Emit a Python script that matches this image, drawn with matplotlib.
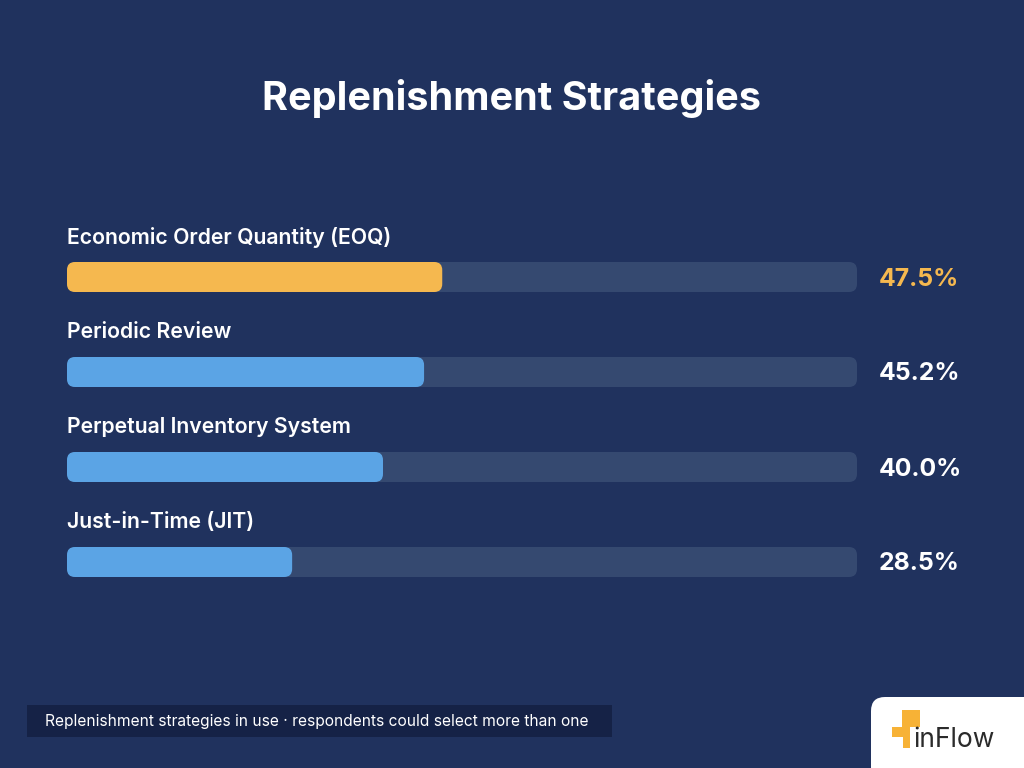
import matplotlib
matplotlib.use("Agg")
import matplotlib.pyplot as plt
from matplotlib.patches import FancyBboxPatch, Rectangle

# ---- data ----
categories = ["Economic Order Quantity (EOQ)", "Periodic Review",
              "Perpetual Inventory System", "Just-in-Time (JIT)"]
values = [47.5, 45.2, 40.0, 28.5]
value_labels = ["47.5%", "45.2%", "40.0%", "28.5%"]
title = "Replenishment Strategies"
footnote = "Replenishment strategies in use · respondents could select more than one"

BG = "#20325E"
TRACK = "#354970"
ORANGE = "#F5B84F"
BLUE = "#5BA4E5"
FOOT_BG = "#152246"
FONT = "Inter"

W, H = 1024, 768
fig = plt.figure(figsize=(W / 100, H / 100), dpi=100, facecolor=BG)

# background / decoration axes in pixel coordinates
bg = fig.add_axes([0, 0, 1, 1])
bg.set_xlim(0, W)
bg.set_ylim(H, 0)
bg.axis("off")
bg.set_facecolor(BG)

bg.text(W / 2, 98, title, ha="center", va="center", color="white",
        fontsize=28.5, fontweight="bold", family=FONT)

# footnote box
bg.add_patch(Rectangle((27, 705), 585, 32, facecolor=FOOT_BG, edgecolor="none"))
bg.text(45, 721.5, footnote, ha="left", va="center", color="white",
        fontsize=11.2, family=FONT)

# logo card
bg.add_patch(FancyBboxPatch((871, 697), 200, 120,
                            boxstyle="round,pad=0,rounding_size=14",
                            facecolor="white", edgecolor="none"))
LOGO = "#F7B236"
bg.add_patch(Rectangle((902, 710), 18, 17, facecolor=LOGO, edgecolor="none"))
bg.add_patch(Rectangle((892, 727), 18, 10, facecolor=LOGO, edgecolor="none"))
bg.add_patch(Rectangle((903, 737), 7, 11, facecolor=LOGO, edgecolor="none"))
bg.text(913, 740, "inFlow", ha="left", va="center", color="#2B2B2B",
        fontsize=19, family=FONT)

# ---- bar axes ----
left_px, width_px = 67, 790
top_px, height_px = 229.5, 380
ax = fig.add_axes([left_px / W, 1 - (top_px + height_px) / H,
                   width_px / W, height_px / H])
ax.set_xlim(0, 100)
ax.set_ylim(len(categories) - 0.5, -0.5)
ax.axis("off")
ax.patch.set_alpha(0)

ypos = list(range(len(categories)))
bar_h = 30 / 95
colors = [ORANGE] + [BLUE] * (len(categories) - 1)

tracks = ax.barh(ypos, [100] * len(categories), height=bar_h, left=0)
bars = ax.barh(ypos, values, height=bar_h, left=0)

px_per_x = width_px / 100
px_per_y = height_px / len(categories)
aspect = px_per_x / px_per_y
radius = 8 / px_per_x

def round_patches(container, cols):
    for p, c in zip(container.patches, cols):
        p.set_visible(False)
        fb = FancyBboxPatch((p.get_x(), p.get_y()), p.get_width(), p.get_height(),
                            boxstyle=f"round,pad=0,rounding_size={radius}",
                            mutation_aspect=aspect,
                            facecolor=c, edgecolor="none", zorder=p.get_zorder())
        ax.add_patch(fb)

round_patches(tracks, [TRACK] * len(categories))
round_patches(bars, colors)

for i, (cat, lab) in enumerate(zip(categories, value_labels)):
    ax.text(0, i - 40 / px_per_y, cat, ha="left", va="center", color="white",
            fontsize=15.3, fontweight="semibold", family=FONT)
    ax.text(102.8, i + 2 / px_per_y, lab, ha="left", va="center",
            color=ORANGE if i == 0 else "white",
            fontsize=17.8, fontweight="bold", family=FONT, clip_on=False)

fig.savefig("out.png", dpi=100, facecolor=BG)
